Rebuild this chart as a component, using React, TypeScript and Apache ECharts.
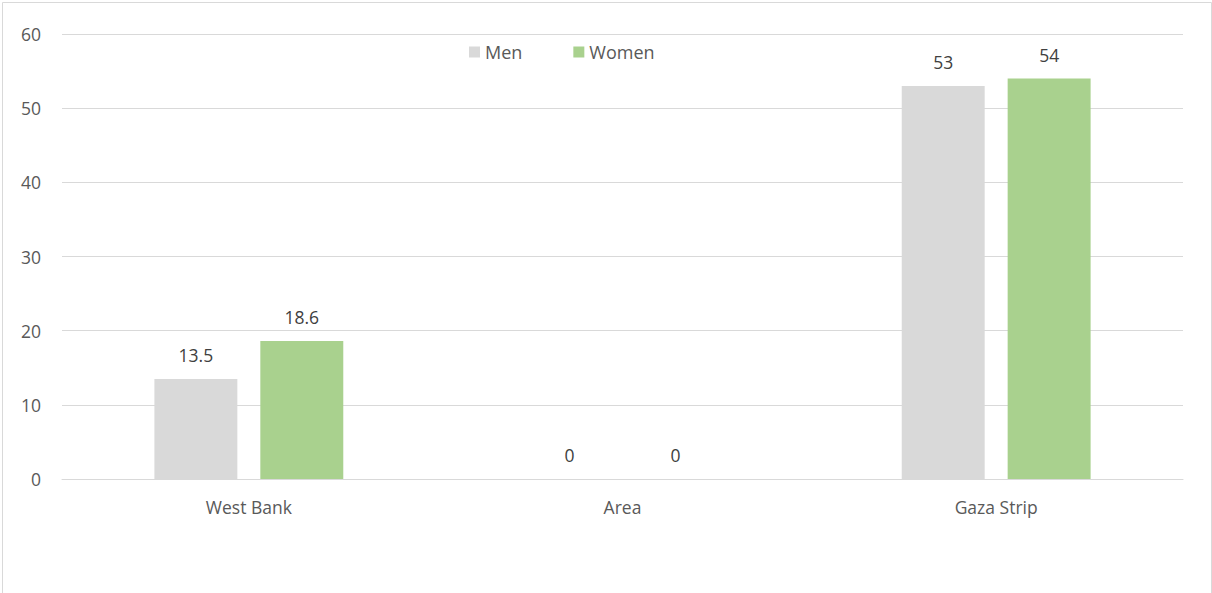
import React, { useEffect, useRef } from "react";
import * as echarts from "echarts";

const categories = ["West Bank", "Area", "Gaza Strip"];
const menValues = [13.5, 0, 53];
const womenValues = [18.6, 0, 54];
const yTicks = { min: 0, max: 60, interval: 10 };

const FONT = "'Open Sans', 'Noto Sans', sans-serif";

export default function App() {
  const ref = useRef<HTMLDivElement>(null);
  useEffect(() => {
    document.body.style.margin = "0";
    const chart = echarts.init(ref.current!, null, { renderer: "svg" });
    chart.setOption({
      animation: false,
      backgroundColor: "#ffffff",
      textStyle: { fontFamily: FONT },
      graphic: [
        {
          type: "rect",
          shape: { x: 2.5, y: 2.5, width: 1209, height: 620 },
          style: { fill: "none", stroke: "#d9d9d9", lineWidth: 1 },
          silent: true,
        },
      ],
      legend: {
        top: 38,
        left: 464,
        itemWidth: 11,
        itemHeight: 11,
        itemGap: 51,
        icon: "rect",
        textStyle: { color: "#595959", fontSize: 18, fontFamily: FONT },
        data: ["Men", "Women"],
      },
      grid: { left: 62, right: 29, top: 34, height: 445 },
      xAxis: {
        type: "category",
        data: categories,
        axisLine: { lineStyle: { color: "#d9d9d9", width: 1 } },
        axisTick: { show: false },
        axisLabel: { color: "#595959", fontSize: 17.5, margin: 19, fontFamily: FONT },
      },
      yAxis: {
        type: "value",
        min: yTicks.min,
        max: yTicks.max,
        interval: yTicks.interval,
        axisLine: { show: false },
        axisTick: { show: false },
        splitLine: { lineStyle: { color: "#d9d9d9", width: 1 } },
        axisLabel: { color: "#595959", fontSize: 17.5, margin: 21, fontFamily: FONT },
      },
      series: [
        {
          name: "Men",
          type: "bar",
          data: menValues,
          barWidth: "22.2%",
          barGap: "27.7%",
          itemStyle: { color: "#d9d9d9" },
          label: { show: true, position: "top", distance: 15, color: "#404040", fontSize: 17.5, fontFamily: FONT },
        },
        {
          name: "Women",
          type: "bar",
          data: womenValues,
          barWidth: "22.2%",
          itemStyle: { color: "#a9d18e" },
          label: { show: true, position: "top", distance: 15, color: "#404040", fontSize: 17.5, fontFamily: FONT },
        },
      ],
    });
    return () => chart.dispose();
  }, []);
  return <div ref={ref} style={{ width: 1212, height: 593 }} />;
}
